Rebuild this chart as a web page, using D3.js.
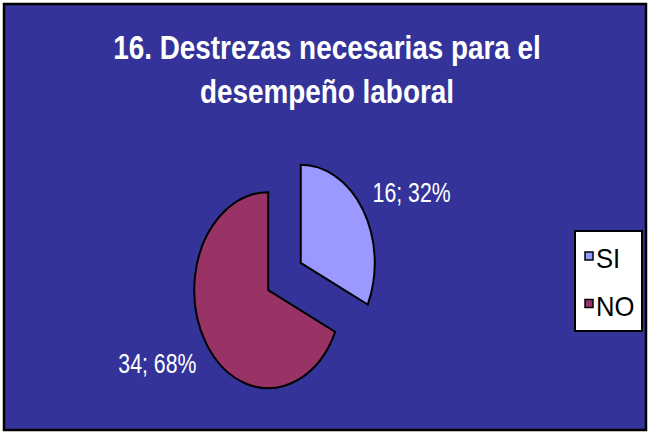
<!DOCTYPE html>
<html>
<head>
	<meta charset="utf-8">
	<script src="https://d3js.org/d3.v7.min.js"></script>
	<style>
		body { margin: 0; background: #ffffff; }
		text { font-family: "Liberation Sans", Arial, sans-serif; fill: #ffffff; }
	</style>
</head>
<body>
	<div class="chart"></div>
	<script>
		var categories = ["SI", "NO"];
		var values = [16, 34];
		var titleLines = ["16. Destrezas necesarias para el", "desempeño laboral"];

		var w = 649, h = 432;
		var sx = 0.76;            // the whole chart looks squeezed sideways
		var cx = 284.5, cy = 276.5, rx = 74, ry = 98, explode = 0.26;

		var color = d3.scaleOrdinal().domain(categories).range(["#9999FF", "#993366"]);
		var pct = d3.format(".0%");
		var total = d3.sum(values);

		var svg = d3.select(".chart")
			.append("svg")
			.attr("width", w)
			.attr("height", h);

		// frame
		svg.append("rect")
			.attr("x", 4).attr("y", 4)
			.attr("width", w - 7).attr("height", h - 6)
			.attr("fill", "#333399")
			.attr("stroke", "#000000")
			.attr("stroke-width", 2.5);

		// title
		svg.selectAll(".title")
			.data(titleLines)
			.enter()
			.append("text")
			.attr("class", "title")
			.attr("transform", function(d, i) { return "translate(" + 327 + "," + (59 + i * 44) + ") scale(0.82,1)"; })
			.attr("text-anchor", "middle")
			.style("font-weight", "bold")
			.style("font-size", "34px")
			.text(function(d) { return d; });

		// pie
		var pie = d3.pie().sort(null).value(function(d) { return d.value; });
		var arcs = pie(categories.map(function(c, i) { return {name: c, value: values[i]}; }));
		var arc = d3.arc().innerRadius(0).outerRadius(1);

		function dir(a) { return [Math.sin(a), -Math.cos(a)]; }

		var slices = svg.append("g").selectAll("g")
			.data(arcs)
			.enter()
			.append("g")
			.attr("transform", function(d) {
				var u = dir((d.startAngle + d.endAngle) / 2);
				return "translate(" + (cx + u[0] * rx * explode) + "," + (cy + u[1] * ry * explode) + ")";
			});

		slices.append("path")
			.attr("d", arc)
			.attr("transform", "scale(" + rx + "," + ry + ")")
			.attr("fill", function(d) { return color(d.data.name); })
			.attr("stroke", "#000000")
			.attr("stroke-width", 2)
			.attr("vector-effect", "non-scaling-stroke");

		// data labels
		slices.append("text")
			.attr("transform", function(d) {
				var u = dir((d.startAngle + d.endAngle) / 2);
				return "translate(" + (u[0] * rx * 1.15) + "," + (u[1] * ry * 1.15) + ") scale(" + sx + ",1)";
			})
			.attr("text-anchor", function(d) { return dir((d.startAngle + d.endAngle) / 2)[0] > 0 ? "start" : "end"; })
			.attr("dy", function(d) { return dir((d.startAngle + d.endAngle) / 2)[1] > 0 ? "0.8em" : "0em"; })
			.style("font-size", "28px")
			.text(function(d) { return d.data.value + "; " + pct(d.data.value / total); });

		// legend
		var legend = svg.append("g").attr("class", "legend");
		legend.append("rect")
			.attr("x", 575).attr("y", 231)
			.attr("width", 67).attr("height", 100)
			.attr("fill", "#ffffff")
			.attr("stroke", "#000000")
			.attr("stroke-width", 2);

		var rowY = d3.scalePoint().domain(categories).range([256, 303.5]);
		var items = legend.selectAll(".item")
			.data(categories)
			.enter()
			.append("g")
			.attr("class", "item")
			.attr("transform", function(d) { return "translate(585," + rowY(d) + ")"; });
		items.append("rect")
			.attr("x", 0).attr("y", -4)
			.attr("width", 8).attr("height", 8)
			.attr("fill", function(d) { return color(d); })
			.attr("stroke", "#000000")
			.attr("stroke-width", 1.5);
		items.append("text")
			.attr("transform", "translate(11,12) scale(0.95,1)")
			.style("font-size", "27px")
			.style("fill", "#000000")
			.text(function(d) { return d; });
	</script>
</body>
</html>
